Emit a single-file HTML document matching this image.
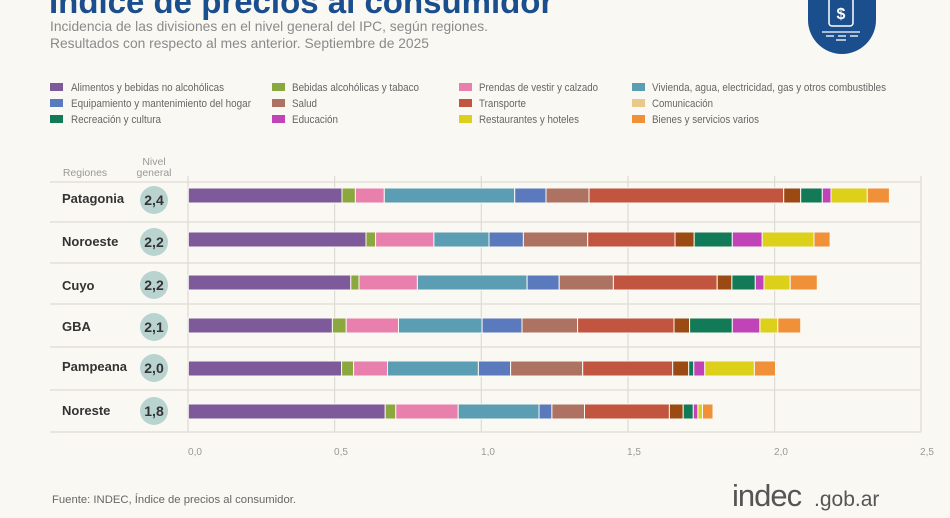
<!DOCTYPE html>
<html><head><meta charset="utf-8"><style>
html,body{margin:0;padding:0;background:#faf8f2;}
svg{display:block;font-family:"Liberation Sans",sans-serif;}
</style></head><body>
<svg width="950" height="518" viewBox="0 0 950 518" xmlns="http://www.w3.org/2000/svg">
<rect width="950" height="518" fill="#faf8f2"/>
<text x="49" y="13" font-size="33" font-weight="bold" fill="#1a4e8c">Índice de precios al consumidor</text>
<text x="50" y="31" font-size="14" fill="#8a8a8a" textLength="438" lengthAdjust="spacingAndGlyphs">Incidencia de las divisiones en el nivel general del IPC, según regiones.</text>
<text x="50" y="48" font-size="14" fill="#8a8a8a" textLength="379" lengthAdjust="spacingAndGlyphs">Resultados con respecto al mes anterior. Septiembre de 2025</text>
<path d="M808 0 H876 V20 A34 34 0 0 1 808 20 Z" fill="#1a4e8c"/>
<rect x="829" y="-2" width="24" height="28" rx="3" fill="none" stroke="#fff" stroke-width="1.5"/>
<text x="841" y="19" font-size="16" font-weight="bold" fill="#fff" text-anchor="middle">$</text>
<g stroke="#fff" stroke-width="1.3"><line x1="822" y1="32" x2="860" y2="32"/><line x1="826" y1="36" x2="834" y2="36"/><line x1="838" y1="36" x2="846" y2="36"/><line x1="850" y1="36" x2="858" y2="36"/><line x1="836" y1="40" x2="846" y2="40"/></g>
<g font-size="11" fill="#666">
<rect x="50" y="83" width="13" height="8" fill="#7e5a9b"/><text x="71" y="91" textLength="153" lengthAdjust="spacingAndGlyphs">Alimentos y bebidas no alcohólicas</text>
<rect x="272" y="83" width="13" height="8" fill="#8aa83e"/><text x="292" y="91" textLength="127" lengthAdjust="spacingAndGlyphs">Bebidas alcohólicas y tabaco</text>
<rect x="459" y="83" width="13" height="8" fill="#e87fac"/><text x="479" y="91" textLength="119" lengthAdjust="spacingAndGlyphs">Prendas de vestir y calzado</text>
<rect x="632" y="83" width="13" height="8" fill="#5b9db2"/><text x="652" y="91" textLength="234" lengthAdjust="spacingAndGlyphs">Vivienda, agua, electricidad, gas y otros combustibles</text>
<rect x="50" y="99" width="13" height="8" fill="#5a7abd"/><text x="71" y="107" textLength="180" lengthAdjust="spacingAndGlyphs">Equipamiento y mantenimiento del hogar</text>
<rect x="272" y="99" width="13" height="8" fill="#ae7263"/><text x="292" y="107" textLength="25" lengthAdjust="spacingAndGlyphs">Salud</text>
<rect x="459" y="99" width="13" height="8" fill="#c2553f"/><text x="479" y="107" textLength="47" lengthAdjust="spacingAndGlyphs">Transporte</text>
<rect x="632" y="99" width="13" height="8" fill="#e8c98a"/><text x="652" y="107" textLength="61" lengthAdjust="spacingAndGlyphs">Comunicación</text>
<rect x="50" y="115" width="13" height="8" fill="#127a56"/><text x="71" y="123" textLength="90" lengthAdjust="spacingAndGlyphs">Recreación y cultura</text>
<rect x="272" y="115" width="13" height="8" fill="#c043b8"/><text x="292" y="123" textLength="46" lengthAdjust="spacingAndGlyphs">Educación</text>
<rect x="459" y="115" width="13" height="8" fill="#dcd01a"/><text x="479" y="123" textLength="100" lengthAdjust="spacingAndGlyphs">Restaurantes y hoteles</text>
<rect x="632" y="115" width="13" height="8" fill="#f0913a"/><text x="652" y="123" textLength="107" lengthAdjust="spacingAndGlyphs">Bienes y servicios varios</text>
</g>
<text x="85" y="176" font-size="10.5" fill="#999" text-anchor="middle">Regiones</text>
<text x="154" y="165" font-size="10.5" fill="#999" text-anchor="middle">Nivel</text>
<text x="154" y="176" font-size="10.5" fill="#999" text-anchor="middle">general</text>
<g stroke="#dedbd3" stroke-width="1.2">
<line x1="50" y1="182" x2="921" y2="182"/><line x1="50" y1="222" x2="921" y2="222"/><line x1="50" y1="263" x2="921" y2="263"/><line x1="50" y1="304" x2="921" y2="304"/><line x1="50" y1="347" x2="921" y2="347"/><line x1="50" y1="390" x2="921" y2="390"/>
<line x1="334.6" y1="176" x2="334.6" y2="432"/><line x1="481.3" y1="176" x2="481.3" y2="432"/><line x1="628" y1="176" x2="628" y2="432"/><line x1="774.6" y1="176" x2="774.6" y2="432"/><line x1="921" y1="176" x2="921" y2="432"/>
<line x1="188" y1="176" x2="188" y2="432"/>
<line x1="50" y1="432" x2="921" y2="432"/>
</g>
<g font-size="10" fill="#999" text-anchor="middle">
<text x="195" y="455">0,0</text><text x="341" y="455">0,5</text><text x="488" y="455">1,0</text><text x="634" y="455">1,5</text><text x="781" y="455">2,0</text><text x="927" y="455">2,5</text>
</g>
<g font-size="13" font-weight="bold" fill="#333">
<text x="62" y="203">Patagonia</text><text x="62" y="246">Noroeste</text><text x="62" y="290">Cuyo</text><text x="62" y="331">GBA</text><text x="62" y="371">Pampeana</text><text x="62" y="415">Noreste</text>
</g>
<g fill="#b9d3d0"><circle cx="154" cy="200" r="14"/><circle cx="154" cy="242" r="14"/><circle cx="154" cy="285" r="14"/><circle cx="154" cy="327" r="14"/><circle cx="154" cy="368" r="14"/><circle cx="154" cy="411" r="14"/></g>
<g font-size="14" font-weight="bold" fill="#333" text-anchor="middle">
<text x="154" y="205">2,4</text><text x="154" y="247">2,2</text><text x="154" y="290">2,2</text><text x="154" y="332">2,1</text><text x="154" y="373">2,0</text><text x="154" y="416">1,8</text>
</g>
<g id="bars" stroke="#faf8f2" stroke-width="1">
<g transform="translate(0,188)">
<rect x="188.3" width="153.7" height="15" fill="#7e5a9b"/><rect x="342" width="13.4" height="15" fill="#8aa83e"/><rect x="355.4" width="28.9" height="15" fill="#e87fac"/><rect x="384.3" width="130.4" height="15" fill="#5b9db2"/><rect x="514.7" width="31.3" height="15" fill="#5a7abd"/><rect x="546" width="43" height="15" fill="#ae7263"/><rect x="589" width="194.7" height="15" fill="#c2553f"/><rect x="783.7" width="17" height="15" fill="#9b4a14"/><rect x="800.7" width="21.6" height="15" fill="#127a56"/><rect x="822.3" width="8.7" height="15" fill="#c043b8"/><rect x="831" width="36.3" height="15" fill="#dcd01a"/><rect x="867.3" width="22.1" height="15" fill="#f0913a"/>
</g>
<g transform="translate(0,232)">
<rect x="188.3" width="177.7" height="15" fill="#7e5a9b"/><rect x="366" width="9.6" height="15" fill="#8aa83e"/><rect x="375.6" width="58.3" height="15" fill="#e87fac"/><rect x="433.9" width="55.1" height="15" fill="#5b9db2"/><rect x="489" width="34.4" height="15" fill="#5a7abd"/><rect x="523.4" width="64.3" height="15" fill="#ae7263"/><rect x="587.7" width="87.3" height="15" fill="#c2553f"/><rect x="675" width="19.2" height="15" fill="#9b4a14"/><rect x="694.2" width="38.1" height="15" fill="#127a56"/><rect x="732.3" width="29.9" height="15" fill="#c043b8"/><rect x="762.2" width="51.8" height="15" fill="#dcd01a"/><rect x="814" width="16.1" height="15" fill="#f0913a"/>
</g>
<g transform="translate(0,275)">
<rect x="188.3" width="162.5" height="15" fill="#7e5a9b"/><rect x="350.8" width="8.2" height="15" fill="#8aa83e"/><rect x="359" width="58.4" height="15" fill="#e87fac"/><rect x="417.4" width="109.7" height="15" fill="#5b9db2"/><rect x="527.1" width="32.1" height="15" fill="#5a7abd"/><rect x="559.2" width="54.2" height="15" fill="#ae7263"/><rect x="613.4" width="103.8" height="15" fill="#c2553f"/><rect x="717.2" width="14.7" height="15" fill="#9b4a14"/><rect x="731.9" width="23.4" height="15" fill="#127a56"/><rect x="755.3" width="8.7" height="15" fill="#c043b8"/><rect x="764" width="26.2" height="15" fill="#dcd01a"/><rect x="790.2" width="27.1" height="15" fill="#f0913a"/>
</g>
<g transform="translate(0,318)">
<rect x="188.3" width="144.1" height="15" fill="#7e5a9b"/><rect x="332.4" width="13.8" height="15" fill="#8aa83e"/><rect x="346.2" width="52.3" height="15" fill="#e87fac"/><rect x="398.5" width="83.6" height="15" fill="#5b9db2"/><rect x="482.1" width="39.9" height="15" fill="#5a7abd"/><rect x="522" width="55.6" height="15" fill="#ae7263"/><rect x="577.6" width="96.4" height="15" fill="#c2553f"/><rect x="674" width="15.6" height="15" fill="#9b4a14"/><rect x="689.6" width="42.7" height="15" fill="#127a56"/><rect x="732.3" width="27.6" height="15" fill="#c043b8"/><rect x="759.9" width="17.9" height="15" fill="#dcd01a"/><rect x="777.8" width="22.9" height="15" fill="#f0913a"/>
</g>
<g transform="translate(0,361)">
<rect x="188.3" width="153.3" height="15" fill="#7e5a9b"/><rect x="341.6" width="12" height="15" fill="#8aa83e"/><rect x="353.6" width="33.9" height="15" fill="#e87fac"/><rect x="387.5" width="90.9" height="15" fill="#5b9db2"/><rect x="478.4" width="32.2" height="15" fill="#5a7abd"/><rect x="510.6" width="72.1" height="15" fill="#ae7263"/><rect x="582.7" width="90" height="15" fill="#c2553f"/><rect x="672.7" width="16" height="15" fill="#9b4a14"/><rect x="688.7" width="5.1" height="15" fill="#127a56"/><rect x="693.8" width="11" height="15" fill="#c043b8"/><rect x="704.8" width="49.6" height="15" fill="#dcd01a"/><rect x="754.4" width="21.1" height="15" fill="#f0913a"/>
</g>
<g transform="translate(0,404)">
<rect x="188.3" width="196.9" height="15" fill="#7e5a9b"/><rect x="385.2" width="10.6" height="15" fill="#8aa83e"/><rect x="395.8" width="62.4" height="15" fill="#e87fac"/><rect x="458.2" width="80.8" height="15" fill="#5b9db2"/><rect x="539" width="12.9" height="15" fill="#5a7abd"/><rect x="551.9" width="32.6" height="15" fill="#ae7263"/><rect x="584.5" width="84.9" height="15" fill="#c2553f"/><rect x="669.4" width="13.8" height="15" fill="#9b4a14"/><rect x="683.2" width="10.1" height="15" fill="#127a56"/><rect x="693.3" width="4.6" height="15" fill="#c043b8"/><rect x="697.9" width="4.6" height="15" fill="#dcd01a"/><rect x="702.5" width="10.5" height="15" fill="#f0913a"/>
</g>
</g>
<text x="52" y="503" font-size="11" fill="#666" textLength="244" lengthAdjust="spacingAndGlyphs">Fuente: INDEC, Índice de precios al consumidor.</text>
<text x="732" y="506" font-size="31" fill="#555" letter-spacing="-1">indec</text>
<text x="814" y="506" font-size="21" fill="#555">.gob.ar</text>
</svg>
</body></html>
